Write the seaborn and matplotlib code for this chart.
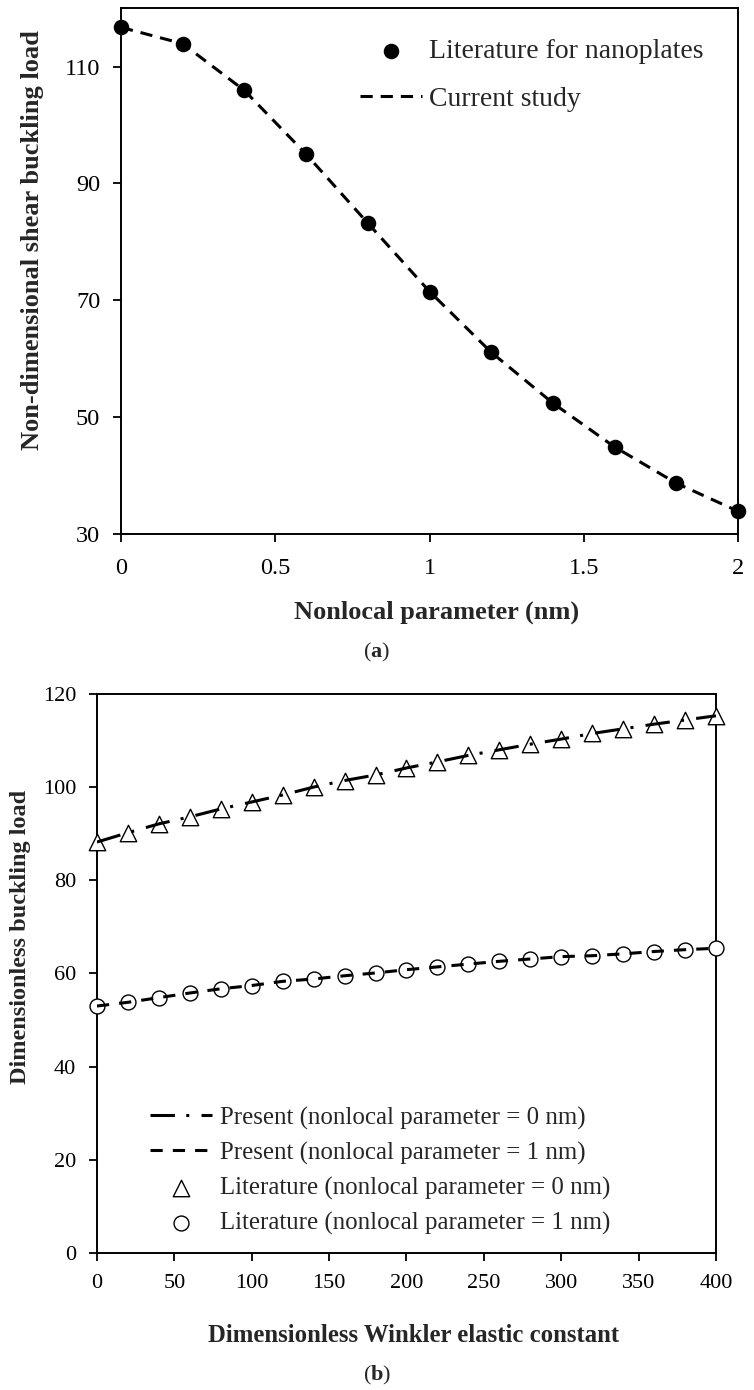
import matplotlib
matplotlib.use("Agg")
import matplotlib.pyplot as plt
from matplotlib.ticker import FuncFormatter
import seaborn as sns

# (a) shear buckling vs nonlocal parameter
nonlocal_nm = [0, 0.2, 0.4, 0.6, 0.8, 1.0, 1.2, 1.4, 1.6, 1.8, 2.0]
literature_shear = [116.7, 113.9, 105.9, 95.0, 83.2, 71.5, 61.1, 52.4, 44.9, 38.7, 33.9]
current_shear = [116.7, 113.9, 105.9, 95.0, 83.2, 71.5, 61.1, 52.4, 44.9, 38.7, 33.9]

# (b) buckling vs Winkler constant
winkler = [0, 20, 40, 60, 80, 100, 120, 140, 160, 180, 200,
           220, 240, 260, 280, 300, 320, 340, 360, 380, 400]
lit_mu0 = [88.2, 90.2, 92.1, 93.6, 95.3, 96.8, 98.3, 100.0, 101.4, 102.6, 104.1,
           105.4, 106.8, 108.0, 109.2, 110.3, 111.5, 112.5, 113.5, 114.4, 115.3]
lit_mu1 = [53.0, 53.8, 54.8, 55.8, 56.7, 57.4, 58.3, 58.8, 59.5, 60.1, 60.8,
           61.4, 62.0, 62.6, 63.1, 63.6, 63.8, 64.2, 64.7, 65.1, 65.4]
present_mu0 = lit_mu0
present_mu1 = lit_mu1

sns.set_style("ticks")
plt.rcParams["font.family"] = ["Liberation Serif", "DejaVu Serif"]
plt.rcParams["mathtext.fontset"] = "custom"
plt.rcParams["mathtext.rm"] = "Liberation Serif"
plt.rcParams["mathtext.bf"] = "Liberation Serif:bold"

fig = plt.figure(figsize=(7.54, 13.9), dpi=100)
ax1 = fig.add_axes([0.1605, 0.6158, 0.8183, 0.3784])
ax2 = fig.add_axes([0.1286, 0.0986, 0.821, 0.4022])

# ---- (a)
sns.scatterplot(x=nonlocal_nm, y=literature_shear, ax=ax1, color="black", s=125,
                edgecolor="black", linewidth=0, label="Literature for nanoplates",
                clip_on=False, zorder=3)
sns.lineplot(x=nonlocal_nm, y=current_shear, ax=ax1, color="black", linewidth=2.2,
             linestyle=(0, (4, 2.6)), label="Current study", zorder=4)
ax1.set_xlim(0, 2)
ax1.set_ylim(30, 120)
ax1.set_xticks([0, 0.5, 1, 1.5, 2])
ax1.set_yticks([30, 50, 70, 90, 110])
ax1.xaxis.set_major_formatter(FuncFormatter(lambda v, p: f"{v:g}"))
ax1.tick_params(axis="both", labelsize=17.5, length=6, width=1.3, color="black")
ax1.tick_params(axis="x", pad=11)
ax1.tick_params(axis="y", pad=9)
ax1.set_xlabel("Nonlocal parameter (nm)", fontsize=19, fontweight="bold")
ax1.set_ylabel("Non-dimensional shear buckling load", fontsize=19, fontweight="bold")
ax1.xaxis.set_label_coords(0.512, -0.148)
ax1.xaxis.label.set_verticalalignment("center")
ax1.yaxis.set_label_coords(-0.144, 0.559)
ax1.yaxis.label.set_verticalalignment("center")
h, l = ax1.get_legend_handles_labels()
ax1.legend(h, l, loc="upper left", bbox_to_anchor=(0.387, 0.942), frameon=False,
           fontsize=20, handlelength=2.23, handletextpad=0.25, labelspacing=0.8,
           borderpad=0, borderaxespad=0)

# ---- (b)
sns.scatterplot(x=winkler, y=lit_mu0, ax=ax2, marker="^", s=140, color="white",
                edgecolor="black", linewidth=1.0, clip_on=False, zorder=3,
                label="Literature (nonlocal parameter = 0 nm)")
sns.scatterplot(x=winkler, y=lit_mu1, ax=ax2, marker="o", s=115, color="white",
                edgecolor="black", linewidth=1.0, clip_on=False, zorder=3,
                label="Literature (nonlocal parameter = 1 nm)")
sns.lineplot(x=winkler, y=present_mu0, ax=ax2, color="black", linewidth=2.2,
             linestyle=(0, (8, 3.7, 1, 4)), zorder=4,
             label="Present (nonlocal parameter = 0 nm)")
sns.lineplot(x=winkler, y=present_mu1, ax=ax2, color="black", linewidth=2.2,
             linestyle=(0, (4, 3.3)), zorder=4,
             label="Present (nonlocal parameter = 1 nm)")
ax2.set_xlim(0, 400)
ax2.set_ylim(0, 120)
ax2.set_xticks(range(0, 401, 50))
ax2.set_yticks(range(0, 121, 20))
ax2.tick_params(axis="both", labelsize=16, length=6, width=1.3, color="black", pad=9)
ax2.set_xlabel("Dimensionless Winkler elastic constant", fontsize=17.8, fontweight="bold")
ax2.set_ylabel("Dimensionless buckling load", fontsize=17.5, fontweight="bold")
ax2.xaxis.set_label_coords(0.511, -0.147)
ax2.xaxis.label.set_verticalalignment("center")
ax2.yaxis.set_label_coords(-0.124, 0.565)
ax2.yaxis.label.set_verticalalignment("center")
h, l = ax2.get_legend_handles_labels()
order = [2, 3, 0, 1]
ax2.legend([h[i] for i in order], [l[i] for i in order], loc="upper left",
           bbox_to_anchor=(0.0856, 0.262), frameon=False, fontsize=17.9,
           handlelength=2.5, handletextpad=0.3, labelspacing=0.48,
           borderpad=0, borderaxespad=0)

for ax in (ax1, ax2):
    for side in ("left", "right", "top", "bottom"):
        ax.spines[side].set_visible(True)
        ax.spines[side].set_color("black")
        ax.spines[side].set_linewidth(1.4)
    ax.tick_params(colors="black")

fig.text(0.5, 1 - 652 / 1390, r"($\mathbf{a}$)", ha="center", va="center", fontsize=16)
fig.text(0.5, 1 - 1375 / 1390, r"($\mathbf{b}$)", ha="center", va="center", fontsize=16)

fig.savefig("out.png", dpi=100, facecolor="white")
